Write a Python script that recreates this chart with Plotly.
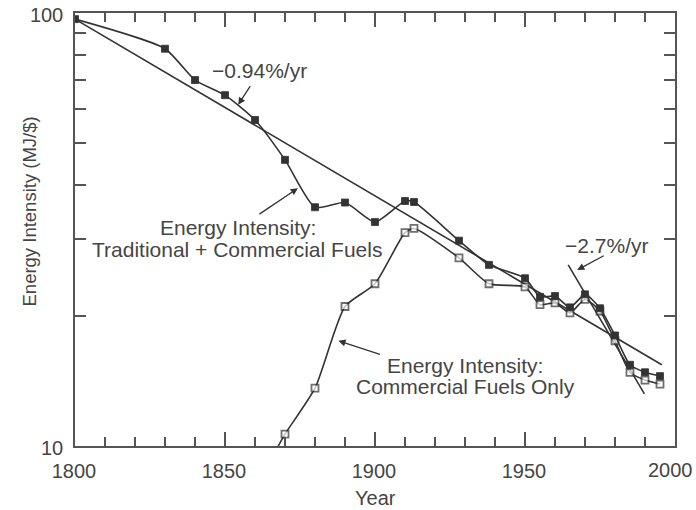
import math
import plotly.graph_objects as go

# Traditional + commercial fuels (filled squares)
total_years = [1800, 1830, 1840, 1850, 1860, 1870, 1880, 1890, 1900, 1910, 1913,
               1928, 1938, 1950, 1955, 1960, 1965, 1970, 1975, 1980, 1985, 1990, 1995]
total_vals = [96.8, 82.7, 70.0, 64.6, 56.6, 45.8, 35.6, 36.5, 32.9, 36.8, 36.6,
              29.8, 26.2, 24.4, 22.1, 22.2, 20.9, 22.4, 20.8, 18.0, 15.4, 14.8, 14.5]

# Commercial fuels only (open squares); first point lies below the axis
comm_years = [1866, 1870, 1880, 1890, 1900, 1910, 1913, 1928, 1938, 1950, 1955,
              1960, 1965, 1970, 1975, 1980, 1985, 1990, 1995]
comm_vals = [9.5, 10.65, 13.6, 21.0, 23.7, 31.1, 31.8, 27.2, 23.7, 23.3, 21.2,
             21.4, 20.3, 21.8, 20.5, 17.5, 14.8, 14.2, 13.9]

# Trend lines
trend_long_x = [1800, 1995.6]
trend_long_y = [96.8, 15.4]
trend_short_x = [1964.4, 1989.8]
trend_short_y = [26.2, 13.2]

x_ticks = [1800, 1850, 1900, 1950, 2000]
x_text = ["1800", "1850", "1900", "1950", ""]  # 2000 is drawn nudged left below
y_ticks = [10, 20, 30, 40, 50, 60, 70, 80, 90, 100]
y_text = ["10", "", "", "", "", "", "", "", "", "100"]

INK = "#333333"
TXT = "#454545"
FONT = "Liberation Sans, Arial, sans-serif"

fig = go.Figure()

fig.add_trace(go.Scatter(x=trend_long_x, y=trend_long_y, mode="lines",
                         line=dict(color=INK, width=1.6), showlegend=False))
fig.add_trace(go.Scatter(x=trend_short_x, y=trend_short_y, mode="lines",
                         line=dict(color=INK, width=1.6), showlegend=False))

fig.add_trace(go.Scatter(x=comm_years, y=comm_vals, mode="lines+markers",
                         line=dict(color=INK, width=1.6, shape="spline", smoothing=0.6),
                         marker=dict(symbol="square", size=[0] + [7] * (len(comm_years) - 1),
                                     color="white", line=dict(color=INK, width=1.8)),
                         showlegend=False))
fig.add_trace(go.Scatter(x=total_years, y=total_vals, mode="lines+markers",
                         line=dict(color=INK, width=1.6, shape="spline", smoothing=0.6),
                         marker=dict(symbol="square", size=7, color=INK,
                                     line=dict(color=INK, width=0.8)),
                         showlegend=False))

W, H = 696, 510
L, R, T, B = 75, 21, 13, 64
PW, PH = W - L - R, H - T - B


def px_x(px):
    # screen pixel -> paper fraction
    return (px - L) / PW


def px_y(py):
    return (H - B - py) / PH


annos = []
# text labels
labels = [("\u22120.94%/yr", 259, 70, 21), ("Energy Intensity:", 238, 227, 21),
          ("Traditional + Commercial Fuels", 237, 249, 21), ("\u22122.7%/yr", 606, 245, 21),
          ("Energy Intensity:", 465, 365, 21), ("Commercial Fuels Only", 465, 386, 21),
          ("Year", 375, 498, 20), ("2000", 670, 470, 20)]
for txt, x, y, size in labels:
    annos.append(dict(text=txt, x=px_x(x), y=px_y(y), xref="paper", yref="paper",
                      showarrow=False, xanchor="center", yanchor="middle",
                      font=dict(size=size, color=TXT, family=FONT)))

# arrows: tip in data coords, tail as pixel offset
arrows = [(1854.4, 61.4, 13, -20), (1874.3, 39.4, -40, 27),
          (1967.4, 25.5, 28, -15), (1887.8, 17.5, 43, 14)]
for x, y, ax, ay in arrows:
    annos.append(dict(x=x, y=math.log10(y), xref="x", yref="y", text="",
                      showarrow=True, ax=ax, ay=ay, arrowhead=2, arrowsize=1.1,
                      arrowwidth=1.3, arrowcolor=INK))

annos.append(dict(text="Energy Intensity (MJ/$)", textangle=-90, x=px_x(17), y=px_y(212),
                  xref="paper", yref="paper", showarrow=False,
                  font=dict(size=18.5, color=TXT, family=FONT)))

fig.update_layout(
    width=W, height=H,
    margin=dict(l=L, r=R, t=T, b=B),
    paper_bgcolor="white", plot_bgcolor="white",
    font=dict(family=FONT, size=20, color=TXT),
    annotations=annos,
    xaxis=dict(range=[1800, 2000], tickvals=x_ticks, ticktext=x_text,
               ticks="inside", ticklen=14, tickwidth=1.5, tickcolor="#555",
               showline=True, linecolor="#555", linewidth=1.5, mirror="ticks",
               showgrid=False, zeroline=False, automargin=False,
               ticklabeloverflow="allow", ticklabelstandoff=6, ticklabelshift=-1,
               minor=dict(dtick=10, ticks="inside", ticklen=9, tickwidth=1.5,
                          tickcolor="#555", showgrid=False)),
    yaxis=dict(type="log", range=[1, 2], tickvals=y_ticks, ticktext=y_text,
               ticks="inside", ticklen=11, tickwidth=1.5, tickcolor="#555",
               showline=True, linecolor="#555", linewidth=1.5, mirror="ticks",
               showgrid=False, zeroline=False, automargin=False,
               ticklabeloverflow="allow", ticklabelstandoff=6, ticklabelshift=2),
)

# drop the default page margin so the figure fills the window exactly
fig.write_html("out.html", config={"displayModeBar": False},
               post_script="document.body.style.margin='0';")
